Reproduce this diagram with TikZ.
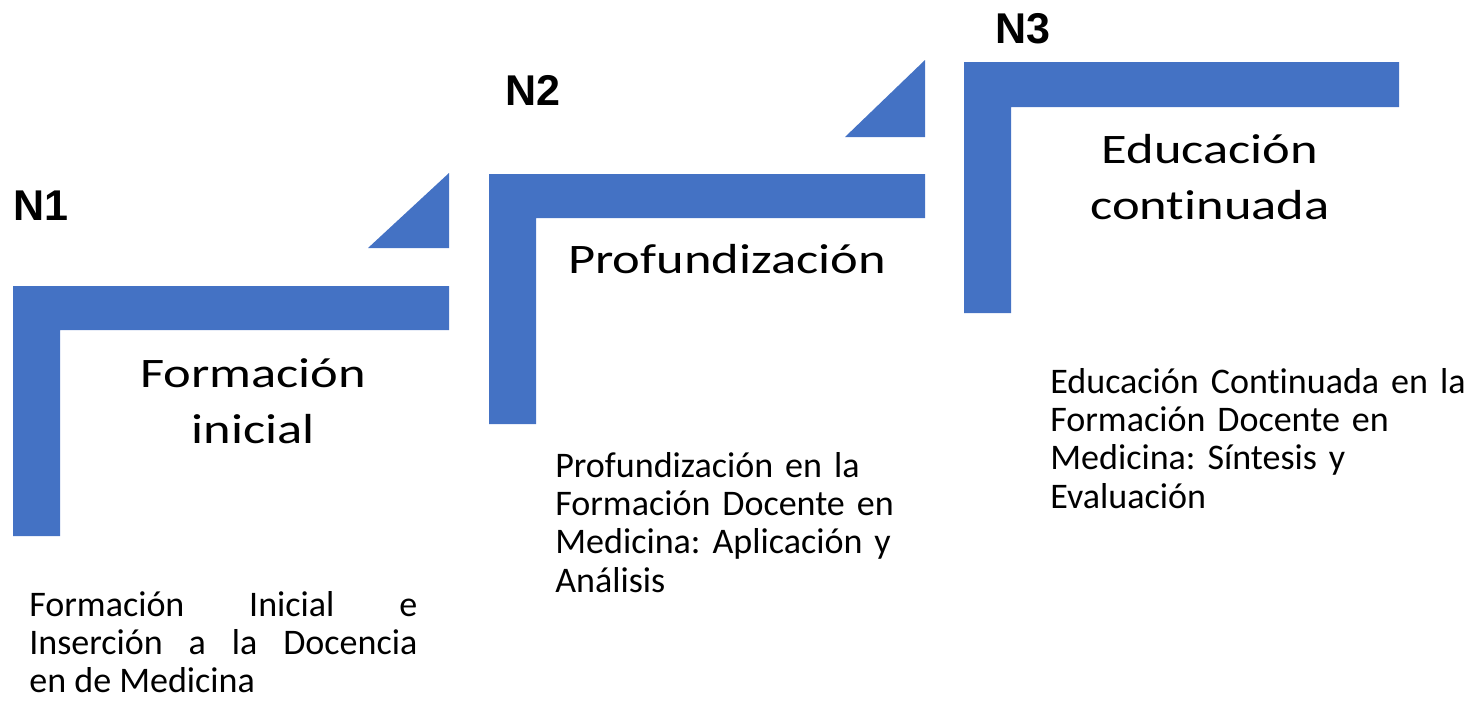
\documentclass[tikz,border=0pt]{standalone}
\usepackage{fontspec}
\setmainfont[Ligatures=NoCommon]{Carlito}
\newfontfamily\widecal[FakeStretch=1.25,Ligatures=NoCommon]{Carlito}
\newfontfamily\levelsans{Liberation Sans}
\definecolor{stepblue}{HTML}{4472C4}
\frenchspacing

\begin{document}
\begin{tikzpicture}[x=0.2mm,y=-0.2mm,
  stepbar/.style={fill=stepblue,draw=none},
  levelname/.style={anchor=base west,inner sep=0pt,
    font=\levelsans\bfseries\fontsize{24.5}{24.5}\selectfont},
  steptitle/.style={anchor=base,inner sep=0pt,text width=90mm,align=center,
    font=\widecal\fontsize{23.9}{31.9}\selectfont},
  stepnote/.style={anchor=base west,inner sep=0pt,text width=90mm,
    font=\fontsize{20.5}{21.9}\selectfont}]
\useasboundingbox (0,0) rectangle (1476,708);

% escalones
\fill[stepbar] (13,286) -- (449,286) -- (449,330) -- (60,330) -- (60,536) -- (13,536) -- cycle;
\fill[stepbar] (368,248) -- (449,248) -- (449,173) -- cycle;
\fill[stepbar] (489,174) -- (925,174) -- (925,218) -- (536,218) -- (536,424) -- (489,424) -- cycle;
\fill[stepbar] (845,137) -- (925,137) -- (925,60) -- cycle;
\fill[stepbar] (964,62) -- (1399,62) -- (1399,107) -- (1011,107) -- (1011,313) -- (964,313) -- cycle;

% niveles
\node[levelname] (n1) at (13,220) {N1};
\node[levelname] (n2) at (505,105) {N2};
\node[levelname] (n3) at (995,43) {N3};

% titulos
\node[steptitle] (inicial) at (253,387) {Formación\\inicial};
\node[steptitle] (profund) at (727,273) {Profundización};
\node[steptitle] (continua) at (1210,163) {Educación\\continuada};

% descripciones
\node[stepnote,text width=77.6mm,align=justify] (notaa) at (29,616)
  {Formación Inicial e\linebreak Inserción a la Docencia\linebreak en de Medicina};
\node[stepnote,align=left] (notab) at (555,477)
  {Profundización en la\\Formación Docente en\\Medicina: Aplicación y\\Análisis};
\node[stepnote,align=left] (notac) at (1050,393)
  {Educación Continuada en la\\Formación Docente en\\Medicina: Síntesis y\\Evaluación};
\end{tikzpicture}
\end{document}
